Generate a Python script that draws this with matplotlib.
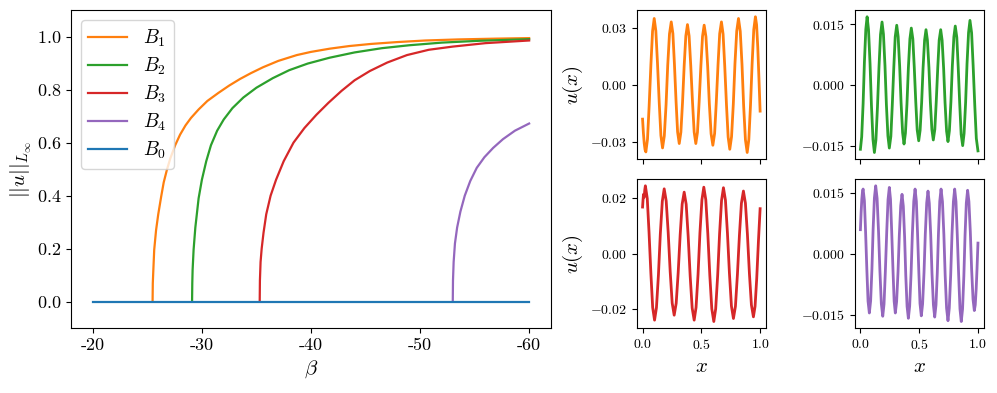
import matplotlib
matplotlib.use("Agg")
import matplotlib.pyplot as plt
from matplotlib.ticker import FuncFormatter

plt.rcParams['font.family'] = 'serif'
plt.rcParams['font.serif'] = ['cmr10']
plt.rcParams['mathtext.fontset'] = 'cm'
plt.rcParams['axes.formatter.use_mathtext'] = True
plt.rcParams['axes.unicode_minus'] = False

# ---------------- left panel data: ||u||_Linf versus beta ----------------
beta_B1 = [-25.48, -25.5, -25.55, -25.63, -25.8, -26.0, -26.27, -26.5, -26.79, -27.1,
           -27.55, -28.0, -28.5, -29.0, -29.7, -30.5, -31.5, -32.5, -33.5, -34.5,
           -35.6, -37.0, -38.7, -40.0, -41.7, -43.5, -45.5, -47.9, -50.5, -53.5,
           -57.0, -60.0]
norm_B1 = [0.0, 0.07, 0.12, 0.196, 0.27, 0.33, 0.397, 0.45, 0.497, 0.54,
           0.59, 0.63, 0.665, 0.693, 0.725, 0.757, 0.787, 0.815, 0.84, 0.862,
           0.884, 0.908, 0.93, 0.942, 0.954, 0.964, 0.972, 0.979, 0.985, 0.989,
           0.992, 0.994]

beta_B2 = [-29.1, -29.12, -29.15, -29.24, -29.4, -29.7, -30.0, -30.4, -30.83, -31.4,
           -32.0, -32.8, -33.8, -35.0, -36.5, -38.0, -39.7, -41.7, -44.0, -46.5,
           -49.0, -52.0, -55.5, -60.0]
norm_B2 = [0.0, 0.07, 0.12, 0.196, 0.28, 0.39, 0.46, 0.53, 0.59, 0.645,
           0.687, 0.73, 0.77, 0.807, 0.843, 0.873, 0.898, 0.92, 0.94, 0.956,
           0.967, 0.977, 0.984, 0.99]

beta_B3 = [-35.3, -35.32, -35.38, -35.48, -35.65, -35.9, -36.3, -36.8, -37.5, -38.4,
           -39.4, -40.5, -41.6, -42.8, -44.0, -45.4, -47.0, -48.8, -50.8, -53.0,
           -56.0, -60.0]
norm_B3 = [0.0, 0.08, 0.15, 0.2, 0.26, 0.33, 0.4, 0.46, 0.53, 0.6,
           0.655, 0.705, 0.75, 0.795, 0.835, 0.87, 0.902, 0.93, 0.95, 0.962,
           0.975, 0.985]

beta_B4 = [-53.0, -53.02, -53.08, -53.2, -53.4, -53.7, -54.1, -54.6, -55.2, -55.9,
           -56.7, -57.6, -58.7, -60.0]
norm_B4 = [0.0, 0.08, 0.15, 0.22, 0.28, 0.34, 0.4, 0.455, 0.505, 0.545,
           0.58, 0.613, 0.645, 0.672]

beta_B0 = [-20.0, -60.0]
norm_B0 = [0.0, 0.0]

beta_ticks = [-20, -30, -40, -50, -60]
beta_ticklabels = ['-20', '-30', '-40', '-50', '-60']
norm_ticks = [0.0, 0.2, 0.4, 0.6, 0.8, 1.0]

# ---------------- right panels data: u(x) ----------------
x_B1 = [0.000, 0.007, 0.014, 0.021, 0.028, 0.042, 0.056, 0.071, 0.085, 0.099, 0.113, 0.127, 0.142,
        0.156, 0.170, 0.185, 0.200, 0.214, 0.229, 0.244, 0.258, 0.271, 0.285, 0.298, 0.312, 0.326,
        0.340, 0.354, 0.368, 0.382, 0.396, 0.410, 0.425, 0.439, 0.453, 0.467, 0.481, 0.496, 0.510,
        0.524, 0.539, 0.554, 0.568, 0.583, 0.598, 0.613, 0.627, 0.642, 0.656, 0.671, 0.685, 0.699,
        0.714, 0.728, 0.742, 0.757, 0.772, 0.786, 0.801, 0.816, 0.831, 0.846, 0.860, 0.875, 0.890,
        0.904, 0.918, 0.932, 0.946, 0.960, 0.970, 0.980, 0.990, 1.000]
u_B1 = [-0.0178, -0.0250, -0.0304, -0.0338, -0.0350, -0.0283, -0.0108, 0.0108, 0.0283, 0.0350,
        0.0285, 0.0115, -0.0094, -0.0264, -0.0329, -0.0266, -0.0101, 0.0104, 0.0269, 0.0332,
        0.0271, 0.0112, -0.0086, -0.0245, -0.0306, -0.0246, -0.0090, 0.0102, 0.0258, 0.0318,
        0.0258, 0.0102, -0.0090, -0.0246, -0.0306, -0.0247, -0.0091, 0.0100, 0.0256, 0.0315,
        0.0255, 0.0097, -0.0097, -0.0255, -0.0315, -0.0253, -0.0091, 0.0108, 0.0270, 0.0332,
        0.0268, 0.0101, -0.0105, -0.0272, -0.0336, -0.0270, -0.0099, 0.0113, 0.0284, 0.0350,
        0.0283, 0.0107, -0.0110, -0.0286, -0.0353, -0.0285, -0.0107, 0.0113, 0.0291, 0.0359,
        0.0317, 0.0200, 0.0036, -0.0136]

x_B2 = [0.000, 0.011, 0.023, 0.034, 0.046, 0.057, 0.069, 0.082, 0.094, 0.107, 0.119, 0.132, 0.145,
        0.158, 0.171, 0.184, 0.196, 0.209, 0.221, 0.234, 0.246, 0.259, 0.271, 0.284, 0.296, 0.309,
        0.321, 0.334, 0.346, 0.359, 0.371, 0.383, 0.396, 0.408, 0.421, 0.433, 0.446, 0.458, 0.471,
        0.483, 0.496, 0.508, 0.521, 0.533, 0.546, 0.558, 0.570, 0.583, 0.595, 0.608, 0.620, 0.633,
        0.645, 0.658, 0.670, 0.683, 0.695, 0.708, 0.720, 0.733, 0.745, 0.757, 0.770, 0.782, 0.795,
        0.807, 0.820, 0.832, 0.845, 0.857, 0.870, 0.882, 0.895, 0.907, 0.920, 0.932, 0.946, 0.959,
        0.973, 0.986, 1.000]
u_B2 = [-0.0159, -0.0128, -0.0046, 0.0056, 0.0138, 0.0169, 0.0137, 0.0053, -0.0051, -0.0135,
        -0.0167, -0.0136, -0.0055, 0.0044, 0.0125, 0.0156, 0.0126, 0.0048, -0.0048, -0.0126,
        -0.0156, -0.0127, -0.0051, 0.0043, 0.0119, 0.0148, 0.0120, 0.0046, -0.0044, -0.0118,
        -0.0146, -0.0119, -0.0047, 0.0042, 0.0114, 0.0141, 0.0114, 0.0045, -0.0042, -0.0111,
        -0.0138, -0.0112, -0.0043, 0.0042, 0.0111, 0.0137, 0.0111, 0.0043, -0.0042, -0.0110,
        -0.0136, -0.0110, -0.0042, 0.0043, 0.0111, 0.0137, 0.0111, 0.0041, -0.0044, -0.0114,
        -0.0140, -0.0113, -0.0041, 0.0047, 0.0119, 0.0146, 0.0118, 0.0044, -0.0048, -0.0122,
        -0.0150, -0.0120, -0.0043, 0.0053, 0.0130, 0.0160, 0.0129, 0.0048, -0.0051, -0.0132,
        -0.0163]

x_B3 = [0.000, 0.004, 0.008, 0.011, 0.014, 0.019, 0.024, 0.040, 0.055, 0.071, 0.086, 0.102, 0.118,
        0.135, 0.151, 0.168, 0.184, 0.201, 0.218, 0.235, 0.252, 0.269, 0.286, 0.303, 0.320, 0.337,
        0.354, 0.371, 0.388, 0.405, 0.422, 0.439, 0.455, 0.472, 0.488, 0.505, 0.521, 0.538, 0.555,
        0.572, 0.589, 0.606, 0.622, 0.639, 0.655, 0.672, 0.688, 0.705, 0.722, 0.739, 0.756, 0.773,
        0.790, 0.807, 0.824, 0.841, 0.858, 0.875, 0.892, 0.909, 0.926, 0.943, 0.957, 0.971, 0.986,
        1.000]
u_B3 = [0.0169, 0.0195, 0.0215, 0.0210, 0.0205, 0.0232, 0.0246, 0.0200, 0.0078, -0.0073, -0.0195,
        -0.0241, -0.0196, -0.0077, 0.0071, 0.0190, 0.0235, 0.0191, 0.0077, -0.0065, -0.0179,
        -0.0223, -0.0180, -0.0069, 0.0069, 0.0180, 0.0223, 0.0179, 0.0063, -0.0081, -0.0197,
        -0.0241, -0.0195, -0.0075, 0.0075, 0.0195, 0.0241, 0.0195, 0.0073, -0.0078, -0.0200,
        -0.0246, -0.0200, -0.0078, 0.0071, 0.0193, 0.0239, 0.0194, 0.0075, -0.0071, -0.0190,
        -0.0235, -0.0191, -0.0075, 0.0067, 0.0183, 0.0227, 0.0183, 0.0070, -0.0072, -0.0186,
        -0.0229, -0.0191, -0.0091, 0.0048, 0.0163]

x_B4 = [0.000, 0.006, 0.012, 0.018, 0.023, 0.034, 0.044, 0.055, 0.065, 0.076, 0.087, 0.098, 0.108,
        0.119, 0.130, 0.142, 0.154, 0.166, 0.178, 0.190, 0.201, 0.212, 0.224, 0.235, 0.246, 0.256,
        0.266, 0.277, 0.287, 0.297, 0.308, 0.320, 0.331, 0.343, 0.354, 0.365, 0.376, 0.386, 0.397,
        0.408, 0.419, 0.431, 0.442, 0.454, 0.465, 0.476, 0.486, 0.497, 0.507, 0.518, 0.529, 0.541,
        0.552, 0.564, 0.575, 0.586, 0.598, 0.609, 0.621, 0.632, 0.643, 0.654, 0.664, 0.675, 0.686,
        0.698, 0.710, 0.721, 0.733, 0.745, 0.756, 0.768, 0.779, 0.791, 0.802, 0.813, 0.824, 0.836,
        0.847, 0.858, 0.869, 0.880, 0.890, 0.901, 0.912, 0.923, 0.935, 0.946, 0.958, 0.969, 0.977,
        0.985, 0.992, 1.000]
u_B4 = [0.0059, 0.0101, 0.0134, 0.0154, 0.0159, 0.0130, 0.0054, -0.0041, -0.0117, -0.0146,
        -0.0116, -0.0038, 0.0059, 0.0137, 0.0167, 0.0136, 0.0056, -0.0043, -0.0123, -0.0154,
        -0.0124, -0.0045, 0.0054, 0.0133, 0.0163, 0.0134, 0.0056, -0.0039, -0.0117, -0.0146,
        -0.0118, -0.0045, 0.0045, 0.0118, 0.0146, 0.0117, 0.0041, -0.0054, -0.0130, -0.0159,
        -0.0129, -0.0049, 0.0049, 0.0129, 0.0159, 0.0129, 0.0051, -0.0045, -0.0123, -0.0153,
        -0.0124, -0.0047, 0.0048, 0.0125, 0.0154, 0.0124, 0.0047, -0.0049, -0.0126, -0.0156,
        -0.0126, -0.0047, 0.0050, 0.0129, 0.0159, 0.0128, 0.0047, -0.0053, -0.0134, -0.0165,
        -0.0134, -0.0053, 0.0047, 0.0128, 0.0159, 0.0128, 0.0046, -0.0054, -0.0136, -0.0167,
        -0.0136, -0.0055, 0.0044, 0.0125, 0.0156, 0.0128, 0.0054, -0.0038, -0.0112, -0.0140,
        -0.0126, -0.0086, -0.0037, 0.0026]

x_ticks = [0.0, 0.5, 1.0]
u_ticks_B1 = [-0.03, 0.0, 0.03]
u_ticks_B2 = [-0.015, 0.0, 0.015]
u_ticks_B3 = [-0.02, 0.0, 0.02]
u_ticks_B4 = [-0.015, 0.0, 0.015]

C0, C1, C2, C3, C4 = '#1f77b4', '#ff7f0e', '#2ca02c', '#d62728', '#9467bd'

fig = plt.figure(figsize=(9.97, 3.93), dpi=100)

# ---------- left panel ----------
ax = fig.add_axes([0.0712, 0.1646, 0.4814, 0.810])
ax.plot(beta_B1, norm_B1, color=C1, lw=1.6, label='$B_1$')
ax.plot(beta_B2, norm_B2, color=C2, lw=1.6, label='$B_2$')
ax.plot(beta_B3, norm_B3, color=C3, lw=1.6, label='$B_3$')
ax.plot(beta_B4, norm_B4, color=C4, lw=1.6, label='$B_4$')
ax.plot(beta_B0, norm_B0, color=C0, lw=1.6, label='$B_0$')
ax.set_xlim(-18, -62)
ax.set_ylim(-0.1, 1.1)
ax.set_xticks(beta_ticks)
ax.set_xticklabels(beta_ticklabels)
ax.set_yticks(norm_ticks)
ax.yaxis.set_major_formatter(FuncFormatter(lambda v, p: r'$%.1f$' % v))
ax.tick_params(labelsize=13)
ax.set_xlabel(r'$\beta$', fontsize=15)
ax.set_ylabel(r'$||u||_{L_\infty}$', fontsize=15, labelpad=2)
ax.legend(loc='upper left', fontsize=14, labelspacing=0.35)

# ---------- right panels ----------
def fmt(nd):
    return FuncFormatter(lambda v, p: (r'$%.' + str(nd) + r'f$') % v)

W = 0.1297
H = 0.3799
panels = [
    (0.6386, 0.5947, x_B1, u_B1, C1, u_ticks_B1, 2, True, False),
    (0.8571, 0.5947, x_B2, u_B2, C2, u_ticks_B2, 3, False, False),
    (0.6386, 0.1646, x_B3, u_B3, C3, u_ticks_B3, 2, True, True),
    (0.8571, 0.1646, x_B4, u_B4, C4, u_ticks_B4, 3, False, True),
]
for (x0, y0, xs, us, col, yt, nd, ylab, xlab) in panels:
    a = fig.add_axes([x0, y0, W, H])
    a.plot(xs, us, color=col, lw=2.0)
    a.set_xticks(x_ticks)
    a.set_yticks(yt)
    a.yaxis.set_major_formatter(fmt(nd))
    a.tick_params(labelsize=10)
    if xlab:
        a.xaxis.set_major_formatter(fmt(1))
        a.set_xlabel(r'$x$', fontsize=15)
    else:
        a.tick_params(labelbottom=False)
    if ylab:
        a.set_ylabel(r'$u(x)$', fontsize=15)

fig.savefig('out.png', dpi=100)
